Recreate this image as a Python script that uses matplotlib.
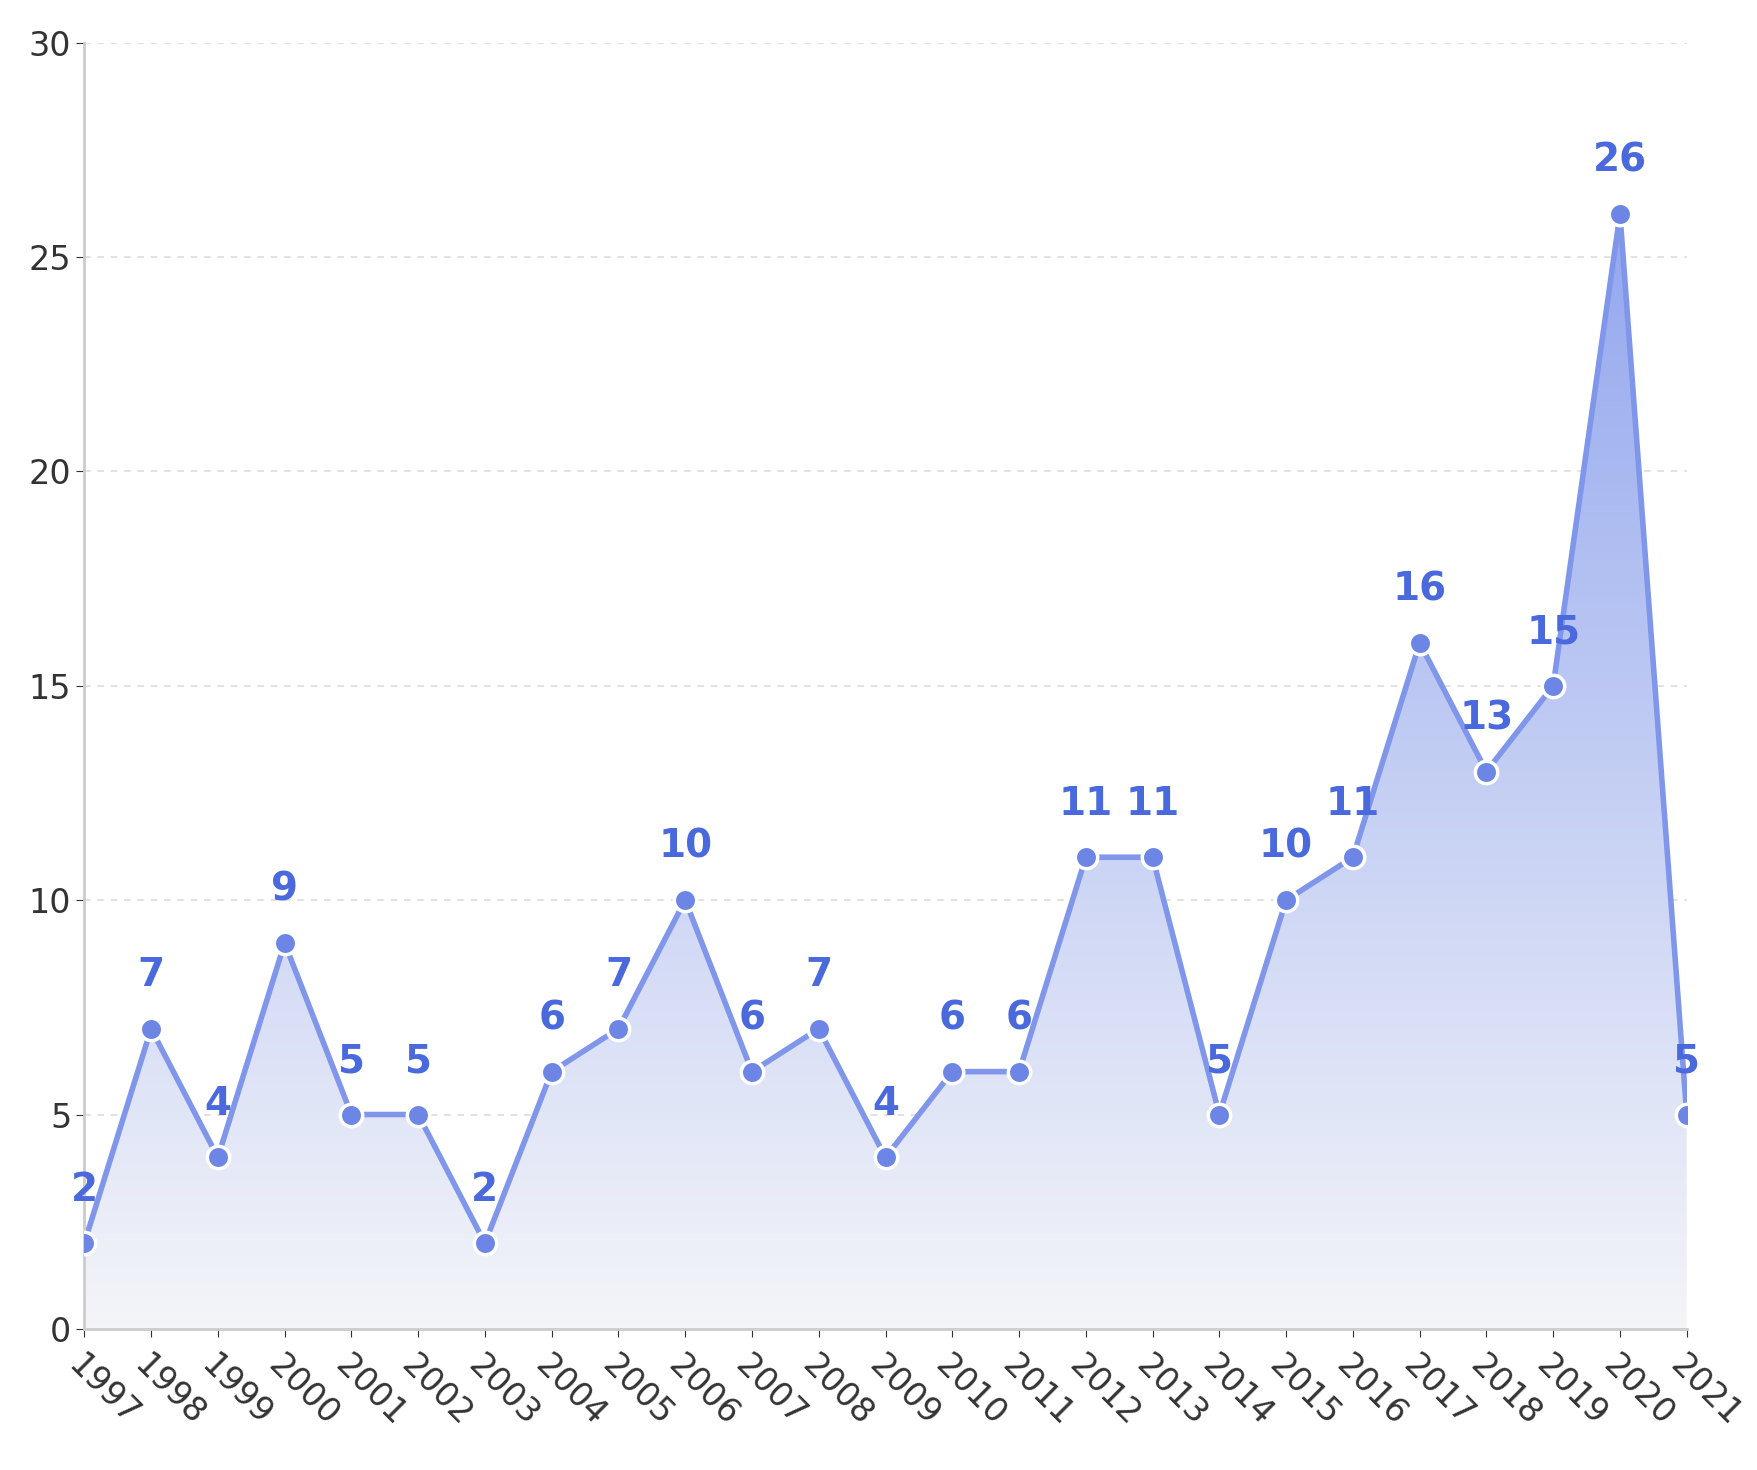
import matplotlib
matplotlib.use("Agg")
import matplotlib.pyplot as plt
import numpy as np
from matplotlib.patches import Polygon

years = [str(y) for y in range(1997, 2022)]
counts = [2, 7, 4, 9, 5, 5, 2, 6, 7, 10, 6, 7, 4, 6, 6, 11, 11, 5, 10, 11, 16, 13, 15, 26, 5]

fig = plt.figure(figsize=(17.57, 14.70), dpi=100)
ax = fig.add_axes([0.048, 0.096, 0.912, 0.875])
x = np.arange(len(years))

# gradient fill under the line
grad = np.linspace(0, 1, 256).reshape(-1, 1)
from matplotlib.colors import LinearSegmentedColormap
cmap = LinearSegmentedColormap.from_list("g", ["#f4f5f9", "#8fa4ee"])
img = ax.imshow(grad, cmap=cmap, aspect="auto", extent=[0, len(x) - 1, 0, 27],
                origin="lower", zorder=1)
poly = Polygon(np.column_stack([np.r_[x, x[-1], x[0]], np.r_[counts, 0, 0]]),
               closed=True, transform=ax.transData, facecolor="none", edgecolor="none")
ax.add_patch(poly)
img.set_clip_path(poly)

ax.plot(x, counts, color="#7f96ea", lw=4, zorder=2)
ax.scatter(x, counts, s=260, color="#6d86e6", edgecolor="white", linewidth=2.5, zorder=3)
for xi, c in zip(x, counts):
    ax.text(xi, c + 0.8, str(c), ha="center", va="bottom", fontsize=28,
            fontweight="bold", color="#4a69dd", zorder=4)

ax.set_xlim(0, len(x) - 1)
ax.set_ylim(0, 30)
ax.set_yticks([0, 5, 10, 15, 20, 25, 30])
ax.set_xticks(x)
ax.set_xticklabels(years, rotation=-45, ha="left", rotation_mode="anchor")
ax.tick_params(labelsize=24, colors="#333333", length=6)
ax.tick_params(axis="x", pad=8)
ax.grid(axis="y", linestyle=(0, (4, 4)), color="#dddddd", lw=1.2)
ax.set_axisbelow(True)
for s in ["top", "right"]:
    ax.spines[s].set_visible(False)
ax.spines["left"].set_color("#cccccc")
ax.spines["bottom"].set_color("#cccccc")
ax.spines["left"].set_linewidth(2)
ax.spines["bottom"].set_linewidth(2)

fig.savefig("out.png", dpi=100)
